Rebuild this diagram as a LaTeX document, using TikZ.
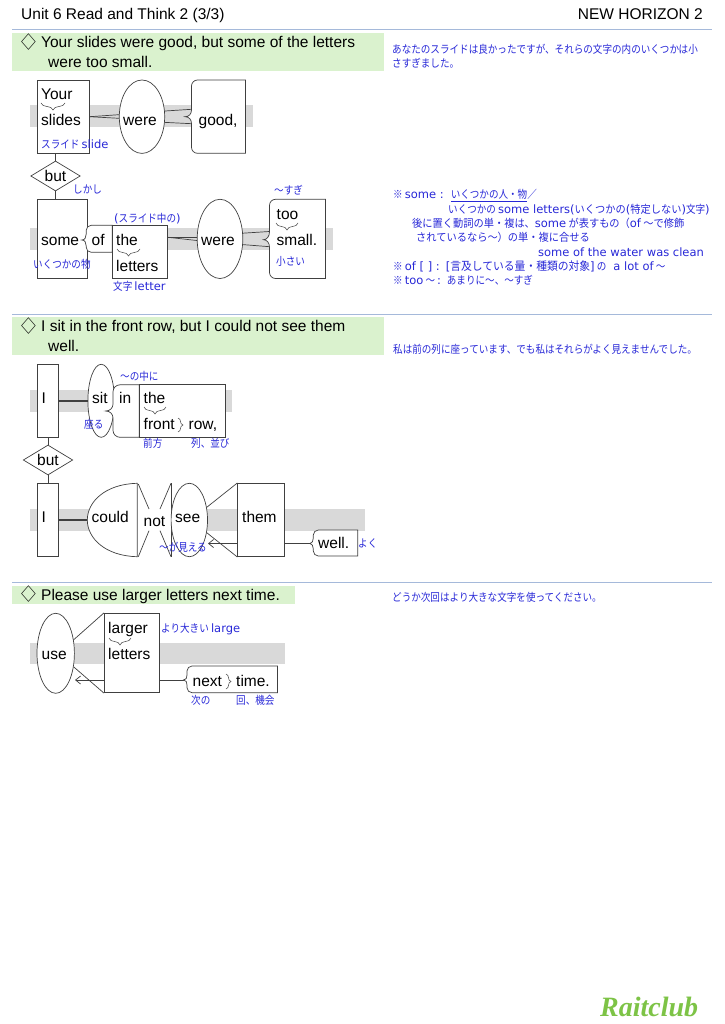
\documentclass[tikz,border=0pt]{standalone}
\usepackage{fontspec}
\setmainfont{Liberation Sans}
\newfontfamily\cjk[FakeStretch=0.87]{Noto Sans CJK JP}
\newfontfamily\cjkw[FakeStretch=0.93]{Noto Sans CJK JP}
\newfontfamily\notela{DejaVu Sans}
\newfontfamily\logofont{Liberation Serif}
\newcommand{\la}[1]{{\notela\fontsize{11.5}{13}\selectfont #1}}
\usetikzlibrary{arrows.meta,shapes.geometric,decorations.pathreplacing}
\definecolor{bandgreen}{RGB}{218,242,206}
\definecolor{bandgray}{RGB}{217,217,217}
\definecolor{rulecolor}{RGB}{165,185,218}
\definecolor{inkcolor}{RGB}{64,64,64}
\definecolor{notecolor}{RGB}{40,40,215}
\definecolor{logocolor}{RGB}{125,195,70}
\tikzset{
  word/.style={font=\fontsize{15.5}{18}\selectfont, inner sep=0pt, anchor=base west},
  note/.style={font=\cjk\fontsize{11}{13}\selectfont, text=notecolor, inner sep=0pt, anchor=base west},
  sym/.style={font=\cjk\fontsize{17}{18}\selectfont, inner sep=0pt},
  shapeline/.style={draw=inkcolor, line width=0.7pt},
  plainbox/.style={shapeline, fill=white, rectangle, inner sep=0pt},
  verboval/.style={shapeline, fill=white, ellipse, inner sep=0pt},
  conjbox/.style={shapeline, fill=white, diamond, inner sep=0pt, minimum width=49.5pt, minimum height=30pt},
  conn/.style={draw=inkcolor, line width=0.7pt},
  modline/.style={conn, -{Straight Barb[length=5pt,width=8pt]}},
  hbrace/.style={draw=inkcolor, line width=0.5pt, decorate, decoration={brace, mirror, amplitude=7pt}},
  vbrace/.style={draw=inkcolor, line width=0.5pt, decorate, decoration={brace, amplitude=5pt}}
}

\begin{document}
\begin{tikzpicture}[x=1pt,y=-1pt]
    \useasboundingbox (0,0) rectangle (724,1024);

    % --- Header ---
    \node[word] (title) at (21,20) {Unit 6 Read and Think 2 (3/3)};
    \node[word, anchor=base east] (book) at (703,20) {NEW HORIZON 2};
    \draw[rulecolor, line width=1pt] (12,29.5) -- (712,29.5);

    % --- Sentence 1 ---
    \fill[bandgreen] (12,33) rectangle (384,71);
    \node[sym] (mark1) at (28.5,42) {◇};
    \node[word] (sent1a) at (41,47.5) {Your slides were good, but some of the letters};
    \node[word] (sent1b) at (48,67.5) {were too small.};
    \node[note] (trans1a) at (392,53.5) {あなたのスライドは良かったですが、それらの文字の内のいくつかは小};
    \node[note] (trans1b) at (392,68) {さすぎました。};

    % Upper clause
    \fill[bandgray] (30,105.5) rectangle (253,127.5);
    \node[plainbox, minimum width=52.5pt, minimum height=73.3pt] (slidesbox) at (63.2,116.7) {};
    \node[verboval, minimum width=45.4pt, minimum height=73.4pt] (were1) at (142,116.7) {};
    \coordinate (goodtop) at (191.5,109.3);
    \coordinate (goodlow) at (191.5,123.7);
    \draw[conn] (slidesbox.east) -- (were1.175);
    \draw[conn] (slidesbox.east) -- (were1.184);
    \draw[conn] (were1.14) -- (goodtop);
    \draw[conn] (were1.-14) -- (goodlow);
    \draw[shapeline, fill=white] (245.5,80) [rounded corners=6pt] -- (191.5,80) [sharp corners] -- (191.5,110) .. controls (191.5,114) and (189,116.7) .. (185,116.7) .. controls (189,116.7) and (191.5,119.5) .. (191.5,123.5) [rounded corners=6pt] -- (191.5,153.3) [sharp corners] -- (245.5,153.3) -- cycle;
    \node[word] (your) at (41,99.5) {Your};
    \draw[hbrace] (41,103) -- (65,103);
    \node[word] (slides) at (41,125.5) {slides};
    \node[word] (were1txt) at (123,125.5) {were};
    \node[word] (good) at (198.5,125.5) {good,};
    \node[note] (slidenote) at (41,148.5) {スライド \la{slide}};

    % Conjunction
    \node[conjbox] (but1) at (55.5,176) {};
    \node[word, anchor=base] (but1txt) at (55.5,181.5) {but};
    \node[note] (but1note) at (73,194) {しかし};

    % Lower clause
    \fill[bandgray] (30,228) rectangle (333,250);
    \node[plainbox, minimum width=50.4pt, minimum height=79.2pt] (somebox) at (62.5,238.9) {};
    \draw[conn] (slidesbox.south -| but1.north) -- (but1.north);
    \draw[conn] (but1.south) -- (somebox.north -| but1.south);
    \draw[shapeline, fill=white] (112.3,225.3) [rounded corners=5pt] -- (86.2,225.3) [sharp corners] -- (86.2,234) .. controls (86.2,237) and (85,240) .. (81.7,240) .. controls (85,240) and (86.2,243) .. (86.2,246) [rounded corners=5pt] -- (86.2,252.3) [sharp corners] -- (112.3,252.3) -- cycle;
    \node[plainbox, minimum width=55.2pt, minimum height=53.2pt] (thebox) at (139.9,251.9) {};
    \node[verboval, minimum width=45.6pt, minimum height=79.2pt] (were2) at (220,238.9) {};
    \coordinate (tootop) at (269.5,231.5);
    \coordinate (toolow) at (269.5,246.7);
    \draw[conn] (thebox.east |- were2.176) -- (were2.176);
    \draw[conn] (thebox.east |- were2.176) -- (were2.184);
    \draw[conn] (were2.14) -- (tootop);
    \draw[conn] (were2.-14) -- (toolow);
    \draw[shapeline, fill=white] (325.5,199.3) [rounded corners=6pt] -- (269.5,199.3) [sharp corners] -- (269.5,232) .. controls (269.5,236) and (267,239.7) .. (263.5,239.7) .. controls (267,239.7) and (269.5,243) .. (269.5,247) [rounded corners=6pt] -- (269.5,278.5) [sharp corners] -- (325.5,278.5) -- cycle;
    \node[word] (some) at (41,245) {some};
    \node[word] (of) at (91.5,245) {of};
    \node[word] (the1) at (116,245) {the};
    \draw[hbrace] (117,249) -- (140,249);
    \node[word] (letters1) at (116,271) {letters};
    \node[word] (were2txt) at (201,245) {were};
    \node[word] (too) at (276.5,219) {too};
    \draw[hbrace] (276,223) -- (298,223);
    \node[word] (small) at (276.5,245) {small.};
    \node[note] (somenote) at (33,268.5) {いくつかの物};
    \node[note] (slidein) at (114,222.5) {\la{(}スライド中の\la{)}};
    \node[note] (letternote) at (113,290) {文字 \la{letter}};
    \node[note] (toonote) at (274,194.5) {～すぎ};
    \node[note] (smallnote) at (276,265.5) {小さい};

    % Notes
    \node[note] (rem1) at (393,199) {※\ \la{some :}\hspace{7pt}\underline{いくつかの人・物}／};
    \node[note] (rem2) at (448,213.5) {いくつかの \la{some letters(}{\cjkw いくつかの}\la{(}{\cjkw 特定しない}\la{)}文字\la{)}};
    \node[note] (rem3) at (412,227.5) {\cjkw 後に置く動詞の単・複は、\la{some} が表すもの（\la{of} ～で修飾};
    \node[note] (rem4) at (416,241.5) {\cjkw されているなら～）の単・複に合せる};
    \node[note] (rem5) at (538,256) {\la{some of the water was clean}};
    \node[note] (rem6) at (393,270.5) {※\ \la{of [ ] :}\hspace{6pt}\la{[}{\cjkw\fontsize{11.6}{13}\selectfont 言及している量・種類の対象}\la{]} の\hspace{7pt}\la{a lot of} ～};
    \node[note] (rem7) at (393,284.5) {※\ \la{too} ～\,\la{:}\hspace{6pt}あまりに～、～すぎ};

    % --- Sentence 2 ---
    \draw[rulecolor, line width=1pt] (12,314) -- (712,314);
    \fill[bandgreen] (12,317.3) rectangle (384,355);
    \node[sym] (mark2) at (28.5,326) {◇};
    \node[word] (sent2a) at (41,331.7) {I sit in the front row, but I could not see them};
    \node[word] (sent2b) at (48,351.7) {well.};
    \node[note] (trans2) at (393,353.5) {私は前の列に座っています、でも私はそれらがよく見えませんでした。};

    % Upper clause
    \fill[bandgray] (30,390) rectangle (231.7,411.7);
    \node[plainbox, minimum width=20.7pt, minimum height=73pt] (ibox1) at (47.7,400.8) {};
    \node[verboval, minimum width=26.6pt, minimum height=73pt] (sitoval) at (101.2,400.8) {};
    \draw[conn, line width=0.45pt] (ibox1.east |- 0,399.8) -- (sitoval.west |- 0,399.8);
    \draw[conn, line width=0.45pt] (ibox1.east |- 0,401) -- (sitoval.west |- 0,401);
    \draw[shapeline, fill=white] (139.3,384.8) [rounded corners=7pt] -- (113,384.8) [sharp corners] -- (113,404) .. controls (113,408) and (110,411) .. (105.7,411) .. controls (110,411) and (113,414) .. (113,418) [rounded corners=7pt] -- (113,437.3) [sharp corners] -- (139.3,437.3) -- cycle;
    \node[plainbox, minimum width=86pt, minimum height=52.5pt] (rowbox) at (182.3,411) {};
    \node[word] (i1) at (41.5,403) {I};
    \node[word] (sit) at (92,403) {sit};
    \node[word] (in) at (119,403) {in};
    \node[word] (the2) at (143.5,403) {the};
    \draw[hbrace] (144,407) -- (166,407);
    \node[word] (front) at (143.5,429.3) {front};
    \draw[vbrace] (178,418) -- (178,432);
    \node[word] (row) at (188.5,429.3) {row,};
    \node[note] (innote) at (120,380) {～の中に};
    \node[note] (sitnote) at (84,428.5) {座る};
    \node[note] (frontnote) at (143,447.5) {前方};
    \node[note] (rownote) at (191,447.5) {列、並び};

    % Conjunction
    \node[conjbox] (but2) at (48,460) {};
    \node[word, anchor=base] (but2txt) at (48,465.5) {but};

    % Lower clause
    \fill[bandgray] (30,509) rectangle (365,530.7);
    \node[plainbox, minimum width=20.7pt, minimum height=73.3pt] (ibox2) at (47.7,520) {};
    \draw[conn] (ibox1.south -| but2.north) -- (but2.north);
    \draw[conn] (but2.south) -- (ibox2.north -| but2.south);
    \fill[white] (137.3,509) rectangle (171,530.7);
    \draw[conn, line width=0.45pt] (ibox2.east |- 0,519.4) -- (87.5,519.4);
    \draw[conn, line width=0.45pt] (ibox2.east |- 0,520.6) -- (87.5,520.6);
    \draw[shapeline, fill=white] (137.3,483.3) .. controls (105,484) and (87.3,502) .. (87.3,520) .. controls (87.3,538) and (105,556) .. (137.3,556.7) -- cycle;
    \draw[conn] (138.3,484) -- (149,509);
    \draw[conn] (160,509) -- (171,483.3);
    \draw[conn] (138.3,556.7) -- (149,530.7);
    \draw[conn] (160,530.7) -- (171,556.7);
    \draw[conn] (171,483.3) -- (171,556.7);
    \node[verboval, minimum width=36.4pt, minimum height=73.4pt] (seeoval) at (189.3,520) {};
    \node[plainbox, minimum width=47pt, minimum height=73.4pt] (thembox) at (261.2,520) {};
    \draw[conn] (seeoval.36) -- (thembox.north west);
    \draw[conn] (seeoval.-36) -- (thembox.south west);
    \coordinate (seefoot) at (208,543.5);
    \coordinate (wellfoot) at (310,543.5);
    \draw[modline] (thembox.west |- seefoot) -- (seefoot);
    \draw[conn] (thembox.east |- wellfoot) -- (wellfoot);
    \draw[shapeline, fill=white] (357.7,530) [rounded corners=5pt] -- (313.3,530) [sharp corners] -- (313.3,538) .. controls (313.3,541) and (312,543.5) .. (310,543.5) .. controls (312,543.5) and (313.3,546) .. (313.3,549) [rounded corners=5pt] -- (313.3,556) [sharp corners] -- (357.7,556) -- cycle;
    \node[word] (i2) at (41.5,522.7) {I};
    \node[word] (could) at (91.5,522.7) {could};
    \node[word] (not) at (143.5,526) {not};
    \node[word] (see) at (175,522.7) {see};
    \node[word] (them) at (242,522.7) {them};
    \node[word] (well) at (318,548.3) {well.};
    \node[note] (wellnote) at (358,547.5) {よく};
    \node[note] (seenote) at (159,551.5) {～が見える};

    % --- Sentence 3 ---
    \draw[rulecolor, line width=1pt] (12,582.3) -- (712,582.3);
    \fill[bandgreen] (12,585.7) rectangle (295,604.3);
    \node[sym] (mark3) at (28.5,594.5) {◇};
    \node[word] (sent3) at (41,600) {Please use larger letters next time.};
    \node[note] (trans3) at (392,601.5) {どうか次回はより大きな文字を使ってください。};

    \fill[bandgray] (30,642.7) rectangle (285,664.3);
    \node[verboval, minimum width=37.4pt, minimum height=80pt] (useoval) at (55.7,653.3) {};
    \node[plainbox, minimum width=54.7pt, minimum height=79.6pt] (largerbox) at (131.7,653) {};
    \draw[conn] (useoval.37) -- (largerbox.north west);
    \draw[conn] (useoval.-37) -- (largerbox.south west);
    \coordinate (usefoot) at (75,680);
    \coordinate (nextfoot) at (183.5,680);
    \draw[modline] (largerbox.west |- usefoot) -- (usefoot);
    \draw[conn] (largerbox.east |- nextfoot) -- (nextfoot);
    \draw[shapeline, fill=white] (277.4,666) [rounded corners=5pt] -- (187,666) [sharp corners] -- (187,675) .. controls (187,678) and (186,680) .. (183.5,680) .. controls (186,680) and (187,682) .. (187,685) [rounded corners=5pt] -- (187,692.7) [sharp corners] -- (277.4,692.7) -- cycle;
    \node[word] (use) at (41.5,659) {use};
    \node[word] (larger) at (108,633) {larger};
    \draw[hbrace] (109,638) -- (131,638);
    \node[word] (letters2) at (108,659) {letters};
    \node[word] (next) at (192.5,686) {next};
    \draw[vbrace] (226,674) -- (226,689);
    \node[word] (time) at (236,686) {time.};
    \node[note] (largernote) at (161,632.5) {より大きい \la{large}};
    \node[note] (nextnote) at (191,704.5) {次の};
    \node[note] (timenote) at (236,704.5) {回、機会};

    % --- Logo ---
    \node[inner sep=0pt, anchor=base west, text=logocolor, font=\logofont\fontsize{28}{30}\bfseries\itshape\selectfont] (logo) at (600,1016) {Raitclub};

\end{tikzpicture}
\end{document}
